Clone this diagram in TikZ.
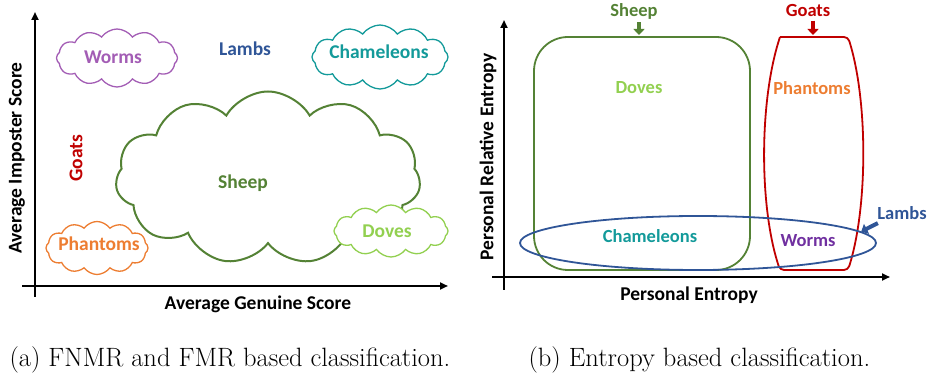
\documentclass[tikz,border=0pt]{standalone}
\usepackage{fontspec}
\setsansfont{Carlito}
\usepackage{xcolor}
\definecolor{sheepGreen}{HTML}{548235}
\definecolor{doveGreen}{HTML}{92D050}
\definecolor{goatRed}{HTML}{C00000}
\definecolor{lambBlue}{HTML}{2F5597}
\definecolor{chamTeal}{HTML}{139A9A}
\definecolor{wormPurple}{HTML}{A35DB5}
\definecolor{wormViolet}{HTML}{7030A0}
\definecolor{phanOrange}{HTML}{ED7D31}
\usetikzlibrary{shapes.symbols}
\usetikzlibrary{shapes.geometric}
\usetikzlibrary{arrows.meta}
\usetikzlibrary{positioning}
\tikzset{
  axis/.style = {line width=2.2pt, -{Triangle[length=8pt,width=7pt]}},
  axislabel/.style = {font={\sffamily\bfseries\fontsize{19.5}{22}\selectfont}},
  group/.style = {font={\sffamily\bfseries\fontsize{19.5}{22}\selectfont}},
  smallgroup/.style = {font={\sffamily\bfseries\fontsize{18.5}{21}\selectfont}},
  puff/.style = {cloud, cloud puffs=12, cloud puff arc=110, aspect=2, draw, fill=white, line width=1.3pt, inner sep=0pt},
  caption/.style = {font={\fontsize{26.5}{30}\selectfont}, anchor=west},
  pointer/.style = {line width=4pt, -{Triangle[length=6pt,width=11pt]}}
}
\begin{document}
\begin{tikzpicture}[x=1pt, y=-1pt]
  \useasboundingbox (0,0) rectangle (927,379);
  % (a) FNMR and FMR
  \coordinate (atop) at (35,12);
  \coordinate (aright) at (448,286);
  \draw [axis] (35,297) -- (atop);
  \draw [axis] (22,286) -- (aright);
  \node [axislabel, rotate=90] (aylabel) at (17,158) {Average Imposter Score};
  \node [axislabel] (axlabel) at (258,304) {Average Genuine Score};
  \node [puff, draw=sheepGreen, line width=2pt, cloud puffs=11, cloud puff arc=120, aspect=1.76, minimum width=305pt, minimum height=173pt] (sheepcloud) at (268,178) {};
  \node [group, text=sheepGreen] (sheepa) at (243,183) {Sheep};
  \node [puff, draw=wormPurple, minimum width=121pt, minimum height=58pt] (wormcloud) at (117,58) {};
  \node [group, text=wormPurple] (wormsa) at (113,57) {Worms};
  \node [group, text=lambBlue] (lambsa) at (245,49) {Lambs};
  \node [puff, draw=chamTeal, minimum width=136pt, minimum height=64pt] (chamcloud) at (380,57) {};
  \node [group, text=chamTeal] (chama) at (379,52) {Chameleons};
  \node [group, text=goatRed, rotate=90] (goatsa) at (76,158) {Goats};
  \node [puff, draw=phanOrange, minimum width=102pt, minimum height=53pt] (phancloud) at (97,248) {};
  \node [group, text=phanOrange] (phana) at (99,244) {Phantoms};
  \node [puff, draw=doveGreen, minimum width=114pt, minimum height=52pt] (dovecloud) at (391,231) {};
  \node [group, text=doveGreen] (dovesa) at (387,231) {Doves};
  % (b) Entropy
  \coordinate (btop) at (504,20);
  \coordinate (bright) at (890,277);
  \draw [axis] (504,290) -- (btop);
  \draw [axis] (492,277) -- (bright);
  \node [axislabel, rotate=90] (bylabel) at (488,157) {Personal Relative Entropy};
  \node [axislabel] (bxlabel) at (689,295) {Personal Entropy};
  \node [draw=sheepGreen, line width=1.8pt, rounded corners=34pt, minimum width=216pt, minimum height=233pt] (sheepbox) at (642,153.5) {};
  \draw [goatRed, line width=1.8pt, rounded corners=4pt]
    (780,37) -- (848,37) .. controls (868,100) and (868,207) .. (848,270)
    -- (780,270) .. controls (759,207) and (759,100) .. (780,37);
  \coordinate (sheeptip) at (639,35);
  \coordinate (goatstop) at (813,35);
  \node [ellipse, draw=lambBlue, line width=1.8pt, minimum width=356pt, minimum height=54pt] (lambring) at (698,243) {};
  \node [smallgroup, text=sheepGreen] (sheepb) at (634,11) {Sheep};
  \node [smallgroup, text=goatRed] (goatsb) at (808,11) {Goats};
  \node [smallgroup, text=lambBlue] (lambsb) at (902,213) {Lambs};
  \node [smallgroup, text=doveGreen] (dovesb) at (639,88) {Doves};
  \node [smallgroup, text=phanOrange] (phanb) at (812,88) {Phantoms};
  \node [smallgroup, text=chamTeal] (chamb) at (650,236) {Chameleons};
  \node [smallgroup, text=wormViolet] (wormsb) at (808,241) {Worms};
  \draw [pointer, sheepGreen] (sheepb.south -| sheeptip) -- (sheeptip);
  \draw [pointer, goatRed] (goatsb.south -| goatstop) -- (goatstop);
  \draw [pointer, lambBlue] ([xshift=4pt]lambsb.south west) -- (lambring.4);
  % captions
  \node [caption] (capa) at (6,360) {(a) FNMR and FMR based classification.};
  \node [caption] (capb) at (525,360) {(b) Entropy based classification.};
\end{tikzpicture}
\end{document}
